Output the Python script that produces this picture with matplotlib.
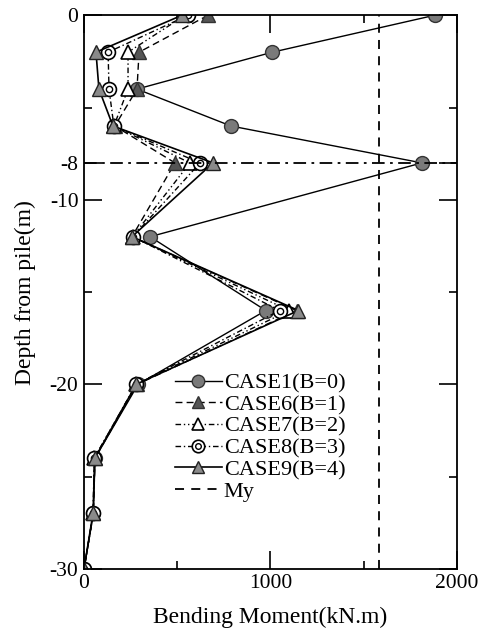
import numpy as np
import matplotlib.pyplot as plt
from matplotlib.legend_handler import HandlerTuple

# depth of each measuring point (m)
depth = [0, -2, -4, -6, -8, -12, -16, -20, -24, -27, -30]

# bending moment (kN.m)
case1 = [1880, 1010, 284, 788, 1812, 354, 975, 290, 59, 50, 0]
case6 = [665, 295, 284, 165, 488, 257, 1140, 285, 59, 50, 0]
case7 = [542, 236, 236, 160, 568, 260, 1100, 280, 55, 50, 0]
case8 = [558, 129, 134, 160, 622, 262, 1050, 280, 55, 48, 0]
case9 = [525, 64, 80, 155, 692, 257, 1150, 280, 58, 48, 0]
my_value = 1580
ref_depth = -8

plt.rcParams['font.family'] = ['Liberation Serif', 'DejaVu Serif']

fig = plt.figure(figsize=(4.83, 6.37), dpi=100)
ax = fig.add_axes([0.174, 0.107, 0.772, 0.869])

ms = 10
l1, = ax.plot(case1, depth, '-', color='k', lw=1, marker='o', ms=ms,
              mfc='#7a7a7a', mec='#333333', mew=1, label='CASE1(B=0)')
l6, = ax.plot(case6, depth, color='k', lw=1, ls=(0, (5, 3)), marker='^', ms=ms,
              mfc='#555555', mec='#333333', mew=1, label='CASE6(B=1)')
l7, = ax.plot(case7, depth, color='k', lw=1, ls=(0, (4, 2, 1, 2, 1, 2)), marker='^', ms=ms,
              mfc='white', mec='k', mew=1.2, label='CASE7(B=2)')
l8, = ax.plot(case8, depth, color='k', lw=1, ls=(0, (4, 2, 1, 2)), marker='o', ms=ms,
              mfc='white', mec='k', mew=1.2, label='CASE8(B=3)')
l8b, = ax.plot(case8, depth, ls='none', marker='o', ms=4.5,
               mfc='none', mec='k', mew=1)
l9, = ax.plot(case9, depth, '-', color='k', lw=1.2, marker='^', ms=ms,
              mfc='#8a8a8a', mec='#222222', mew=1, label='CASE9(B=4)')
lmy = ax.axvline(my_value, color='k', lw=1.3, ls=(0, (5, 4)), label='My')
ax.axhline(ref_depth, color='k', lw=1.3, ls=(0, (7, 3, 1.5, 3)))

ax.set_xlim(0, 2000)
ax.set_ylim(-30, 0)
ax.set_xticks([0, 1000, 2000])
ax.set_xticks([500, 1500], minor=True)
ax.set_yticks([0, -8, -10, -20, -30])
ax.set_yticklabels(['0', '-8', '-10', '-20', '-30'])
ax.set_yticks([-5, -15, -25], minor=True)
ax.tick_params(which='both', direction='in', top=True, right=True,
               labelsize=15.5, width=1.2)
ax.tick_params(which='major', length=13, pad=4)
ax.tick_params(which='minor', length=6)
for s in ax.spines.values():
    s.set_linewidth(1.3)

ax.set_xlabel('Bending Moment(kN.m)', fontsize=17, labelpad=10)
ax.set_ylabel('Depth from pile(m)', fontsize=17, labelpad=10)

ax.legend([l1, l6, l7, (l8, l8b), l9, lmy],
          ['CASE1(B=0)', 'CASE6(B=1)', 'CASE7(B=2)', 'CASE8(B=3)', 'CASE9(B=4)', 'My'],
          handler_map={tuple: HandlerTuple(ndivide=1, pad=0)},
          loc='upper left', bbox_to_anchor=(0.22, 0.37), frameon=False,
          fontsize=16, handlelength=2.1, handletextpad=0.1, labelspacing=0.05,
          borderaxespad=0, markerscale=0.9)

fig.savefig('out.png', dpi=100)
